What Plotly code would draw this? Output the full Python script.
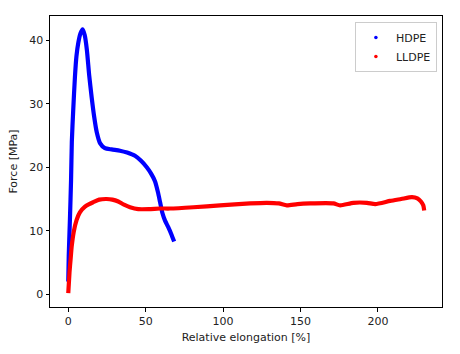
import plotly.graph_objects as go

hdpe_x = [0, 0.3, 1.1, 1.8, 2.3, 3.2, 4.3, 5.3, 6.5, 7.8, 9.3, 10.6, 12.0, 13.5, 15.1, 16.7,
          18.4, 20.5, 23.7, 28, 33.4, 38, 43.1, 47, 50.7, 53.5, 56, 58, 59.3, 60.8, 62.5,
          64.5, 66.5, 68.4]
hdpe_y = [2, 6, 12, 18, 24, 29, 34.2, 37.5, 39.6, 41.0, 41.7, 40.8, 38.5, 34.5, 31.0, 28.0,
          25.5, 23.8, 23.0, 22.8, 22.6, 22.3, 21.8, 21.0, 20.0, 19.0, 17.8, 16.0, 14.5, 12.8,
          11.6, 10.6, 9.5, 8.3]

lldpe_x = [0, 0.8, 1.5, 2.2, 3.5, 5.4, 7.5, 10.8, 13.5, 16.2, 20, 24.8, 28.5, 32.3, 36, 39.9,
           45.2, 52, 59.3, 65.7, 80.8, 98, 117.4, 128.2, 136, 141.2, 148, 156.2, 171.3, 175.6,
           184.2, 192.9, 198.3, 207.9, 215, 222, 225.5, 227.8, 229.3, 229.9]
lldpe_y = [0.2, 3.5, 5.5, 7.5, 9.8, 11.7, 12.9, 13.8, 14.2, 14.5, 14.9, 15.0, 14.9, 14.6, 14.1,
           13.7, 13.4, 13.4, 13.5, 13.5, 13.7, 14.0, 14.3, 14.4, 14.3, 14.0, 14.2, 14.3, 14.3,
           14.0, 14.4, 14.4, 14.2, 14.7, 15.0, 15.3, 15.1, 14.6, 14.0, 13.2]

x_ticks = [0, 50, 100, 150, 200]
y_ticks = [0, 10, 20, 30, 40]

fig = go.Figure()
fig.add_trace(go.Scatter(x=hdpe_x, y=hdpe_y, mode="lines",
                         line=dict(color="blue", width=4.2, shape="spline", smoothing=0.6),
                         showlegend=False))
fig.add_trace(go.Scatter(x=lldpe_x, y=lldpe_y, mode="lines",
                         line=dict(color="red", width=4.2, shape="spline", smoothing=0.6),
                         showlegend=False))
fig.add_trace(go.Scatter(x=[None], y=[None], mode="markers", name="HDPE", marker=dict(color="blue", size=3.5)))
fig.add_trace(go.Scatter(x=[None], y=[None], mode="markers", name="LLDPE", marker=dict(color="red", size=3.5)))

axis_common = dict(showline=True, mirror=True, linecolor="black", linewidth=1, ticks="outside",
                   ticklen=3.5, tickwidth=1, tickcolor="black", showgrid=False, zeroline=False,
                   tickfont=dict(family="DejaVu Sans", size=11, color="#222"))

fig.update_layout(
    width=460, height=354,
    margin=dict(l=50, r=18, t=16, b=47),
    paper_bgcolor="white", plot_bgcolor="white",
    font=dict(family="DejaVu Sans", size=11, color="#222"),
    xaxis=dict(range=[-11.8, 241.4], tickvals=x_ticks,
               title=dict(text="Relative elongation [%]", standoff=6, font=dict(size=11)), **axis_common),
    yaxis=dict(range=[-2.0, 43.8], tickvals=y_ticks,
               title=dict(text="Force [MPa]", standoff=9, font=dict(size=11)), **axis_common),
    legend=dict(x=0.987, y=0.979, xanchor="right", yanchor="top", bgcolor="white",
                bordercolor="#cccccc", borderwidth=1, font=dict(size=11), tracegroupgap=0,
                itemwidth=30),
)

fig.write_html("out.html")
